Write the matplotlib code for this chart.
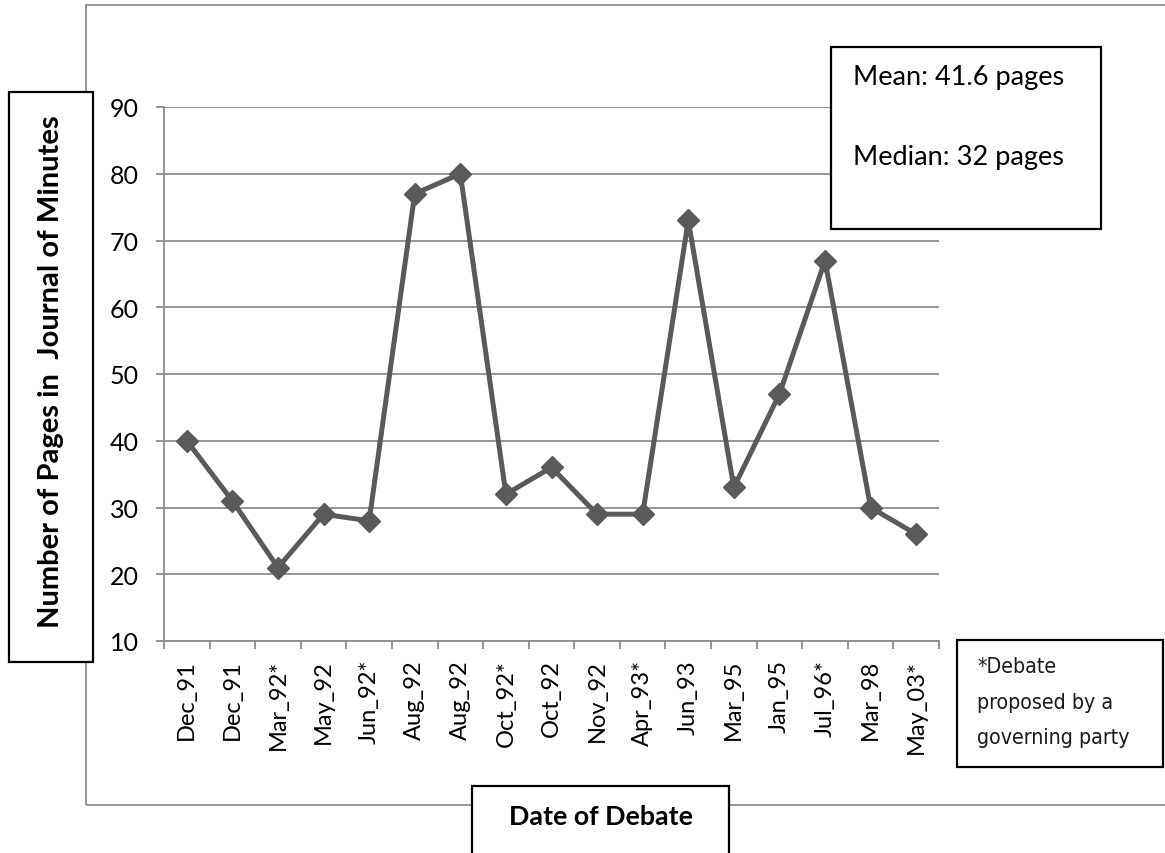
import numpy as np
import matplotlib.pyplot as plt
from matplotlib.patches import Rectangle

dates = ['Dec_91', 'Dec_91', 'Mar_92*', 'May_92', 'Jun_92*', 'Aug_92', 'Aug_92',
         'Oct_92*', 'Oct_92', 'Nov_92', 'Apr_93*', 'Jun_93', 'Mar_95', 'Jan_95',
         'Jul_96*', 'Mar_98', 'May_03*']
pages = [40, 31, 21, 29, 28, 77, 80, 32, 36, 29, 29, 73, 33, 47, 67, 30, 26]
y_ticks = [10, 20, 30, 40, 50, 60, 70, 80, 90]

W, H = 1165, 854
plt.rcParams['font.family'] = ['Lato', 'DejaVu Sans']

fig = plt.figure(figsize=(W / 100, H / 100), dpi=100)


def fx(x):
    return x / W


def fy(y):
    return 1 - y / H


def box(x0, y0, x1, y1, ec='black', lw=1.6, z=3, fc='white'):
    r = Rectangle((fx(x0), fy(y1)), fx(x1) - fx(x0), fy(y0) - fy(y1),
                  transform=fig.transFigure, facecolor=fc, edgecolor=ec,
                  linewidth=lw, clip_on=False, zorder=z)
    fig.patches.append(r)


# outer chart frame
box(86, 6, 1200, 806, ec='#8c8c8c', lw=1.3, z=-1, fc='none')

ax = fig.add_axes([fx(164), fy(642), fx(939) - fx(164), fy(108) - fy(642)])
ax.set_facecolor('none')
x = np.arange(len(pages))
ax.plot(x, pages, color='#5a5a5a', lw=3.6, marker='D', markersize=11,
        markerfacecolor='#5a5a5a', markeredgecolor='#5a5a5a', zorder=3, clip_on=False)

ax.set_xlim(-0.5, len(pages) - 0.5)
ax.set_ylim(10, 90)
ax.set_yticks(y_ticks)
ax.yaxis.grid(True, color='#8c8c8c', lw=1.3)
ax.set_axisbelow(True)
ax.set_xticks(x)
ax.set_xticklabels(dates, rotation=90, fontsize=17)
ax.set_xticks(np.arange(-0.5, len(pages)), minor=True)
ax.tick_params(axis='x', which='major', length=0, pad=13)
ax.tick_params(axis='x', which='minor', length=6, width=1.3, color='#8c8c8c')
ax.tick_params(axis='y', length=6, width=1.3, color='#8c8c8c', pad=12, labelsize=18)
for s in ['top', 'right']:
    ax.spines[s].set_visible(False)
for s in ['left', 'bottom']:
    ax.spines[s].set_color('#8c8c8c')
    ax.spines[s].set_linewidth(1.3)

# y axis title box
box(9, 93, 93, 663)
fig.text(fx(51), fy(372), 'Number of Pages in  Journal of Minutes', rotation=90,
         ha='center', va='center', fontsize=21, fontweight='bold', zorder=4)

# x axis title box
box(472, 787, 729, 900)
fig.text(fx(601), fy(817), 'Date of Debate', ha='center', va='center',
         fontsize=19.3, fontweight='bold', zorder=4)

# mean / median box
box(831, 48, 1101, 230)
fig.text(fx(853), fy(78), 'Mean: 41.6 pages', ha='left', va='center', fontsize=19.5, zorder=4)
fig.text(fx(853), fy(158), 'Median: 32 pages', ha='left', va='center', fontsize=19.5, zorder=4)

# footnote box
box(957, 641, 1163, 768)
for txt, yy in [('*Debate', 667), ('proposed by a', 703), ('governing party', 738)]:
    fig.text(fx(977), fy(yy), txt, ha='left', va='center', fontsize=15.3,
             family='DejaVu Sans', stretch='condensed', color='#1a1a1a', zorder=4)

fig.savefig('out.png', dpi=100)
